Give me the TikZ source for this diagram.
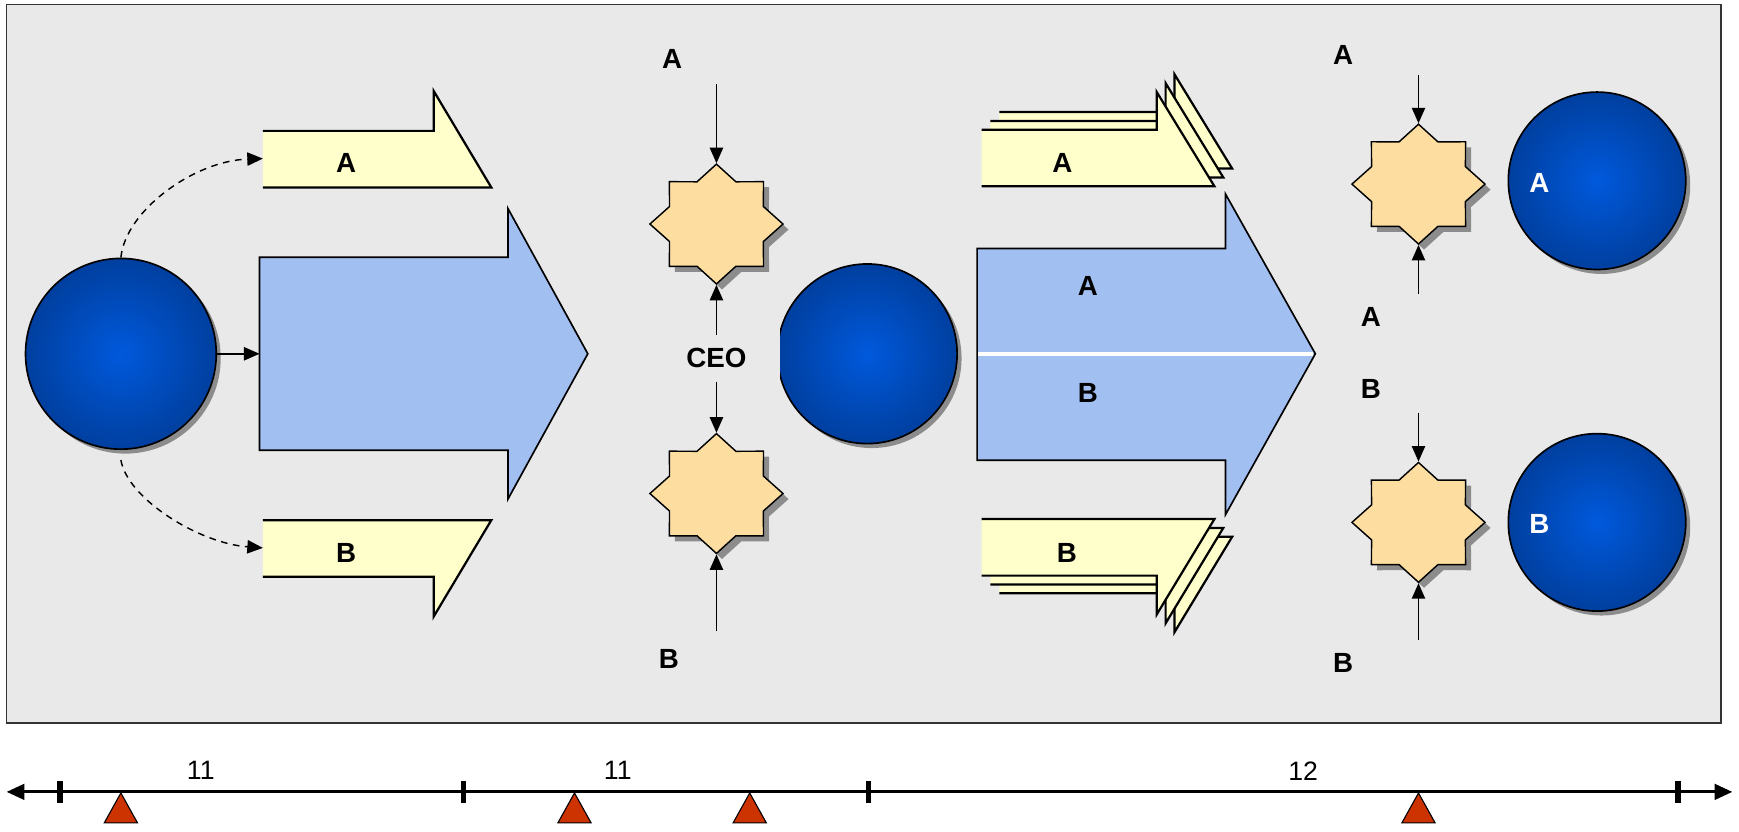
\documentclass[tikz,border=0pt]{standalone}
\usepackage{fontspec}
\setmainfont{Liberation Sans}
\usetikzlibrary{shapes.geometric,arrows.meta,shadows}
\definecolor{bgc}{HTML}{E9E9E9}
\definecolor{bluearr}{HTML}{A2BFF2}
\definecolor{yel}{HTML}{FFFFCC}
\definecolor{starc}{HTML}{FDDEA0}
\definecolor{ballin}{HTML}{0059DC}
\definecolor{ballout}{HTML}{003F9F}
\definecolor{tric}{HTML}{CC3300}
\definecolor{framec}{HTML}{333333}
\begin{document}
\begin{tikzpicture}[x=1pt,y=-1pt,
 lbl/.style={font=\fontsize{25}{30}\selectfont\bfseries, inner sep=0pt},
 wlbl/.style={lbl, text=white},
 num/.style={font=\fontsize{24}{28}\selectfont, inner sep=0pt},
 bluedisc/.style={circle, draw=black, line width=1.5pt, minimum size=#1, inner sep=0pt, shading=radial, inner color=ballin, outer color=ballout, drop shadow={shadow xshift=4pt, shadow yshift=-4pt, fill=black!45, opacity=1}},
 starbox/.style={star, star points=8, star point ratio=1.31, minimum size=120pt, inner sep=0pt, draw=black, line width=1.3pt, fill=starc, transform shape, drop shadow={shadow xshift=5pt, shadow yshift=-5pt, fill=black!45, opacity=1}},
 yarrow/.style={fill=yel, draw=black, line width=2pt},
 barrow/.style={fill=bluearr, draw=black, line width=1.5pt},
 conn/.style={draw=black, line width=1.3pt, -{Triangle[length=14pt,width=12pt]}},
 dconn/.style={conn, dash pattern=on 6pt off 5pt},
 tick/.style={line width=5pt},
 marker/.style={fill=tric, draw=black, line width=1pt},
]
\useasboundingbox (0,0) rectangle (1568,750);
% frame
\draw[fill=bgc, draw=framec, line width=1.5pt] (6,4) rectangle (1552,652);

% ---------- left panel ----------
\node[bluedisc=172pt] (c1) at (109,319) {};
\filldraw[barrow] (234,232) -- (458,232) -- (458,188) -- (530,319) -- (458,450) -- (458,406) -- (234,406) -- cycle;
\coordinate (bAin) at (234,319);
\filldraw[yarrow] (237,118) -- (391,118) -- (391,82) -- (443,169) -- (237,169);
\filldraw[yarrow] (237,469) -- (443,469) -- (391,556) -- (391,520) -- (237,520);
\coordinate (yAin) at (237,143);
\coordinate (yBin) at (237,494);
\node[lbl] (lA1) at (312,147) {A};
\node[lbl] (lB1) at (312,499) {B};
\draw[conn] (c1.east) -- (bAin);
\draw[dconn] (c1.north) .. controls (113,190) and (175,145) .. (yAin);
\draw[dconn] ([yshift=-9pt]c1.south) .. controls (115,450) and (180,490) .. (yBin);

% ---------- middle panel ----------
\begin{scope}[shift={(646,202)}, yscale=0.9]
 \node[starbox] (s1) at (0,0) {};
\end{scope}
\begin{scope}[shift={(646,445)}, yscale=0.9]
 \node[starbox] (s2) at (0,0) {};
\end{scope}
\node[lbl] (lA2) at (606,53) {A};
\node[lbl] (lB2) at (603,594) {B};
\node[lbl, inner ysep=12pt] (ceo) at (646,323) {CEO};
\coordinate (s1in) at (646,76);
\coordinate (s2in) at (646,569);
\draw[conn] (s1in) -- (s1.outer point 1);
\draw[conn] (ceo.north) -- (s1.outer point 5);
\draw[conn] (ceo.south) -- (s2.outer point 1);
\draw[conn] (s2in) -- (s2.outer point 5);
\begin{scope}
 \clip (703.5,200) rectangle (900,450);
 \node[bluedisc=162pt] (c2) at (782,319) {};
\end{scope}

% ---------- right panel ----------
\filldraw[barrow] (881,224) -- (1105,224) -- (1105,175) -- (1186,319) -- (1105,464) -- (1105,415) -- (881,415) -- cycle;
\draw[white, line width=3.5pt] (882,319) -- (1184,319);
\node[lbl] (lA3) at (981,258) {A};
\node[lbl] (lB3) at (981,354) {B};
\foreach \k in {2,1,0}{
 \filldraw[yarrow, shift={(8*\k,-8*\k)}] (885,117) -- (1043,117) -- (1043,83) -- (1095,168) -- (885,168);
 \filldraw[yarrow, shift={(8*\k,8*\k)}] (885,468) -- (1095,468) -- (1043,554) -- (1043,519) -- (885,519);
}
\node[lbl] (lA4) at (958,147) {A};
\node[lbl] (lB4) at (962,499) {B};

\begin{scope}[shift={(1279,166)}, yscale=0.9]
 \node[starbox] (s3) at (0,0) {};
\end{scope}
\begin{scope}[shift={(1279,471)}, yscale=0.9]
 \node[starbox] (s4) at (0,0) {};
\end{scope}
\coordinate (s3in) at (1279,68);
\coordinate (s3bot) at (1279,265);
\coordinate (s4in) at (1279,372);
\coordinate (s4bot) at (1279,577);
\draw[conn] (s3in) -- (s3.outer point 1);
\draw[conn] (s3bot) -- (s3.outer point 5);
\draw[conn] (s4in) -- (s4.outer point 1);
\draw[conn] (s4bot) -- (s4.outer point 5);
\node[lbl] (lA5) at (1211,50) {A};
\node[lbl] (lA6) at (1236,286) {A};
\node[lbl] (lB6) at (1236,351) {B};
\node[lbl] (lB5) at (1211,598) {B};
\node[bluedisc=160pt] (c3) at (1440,163) {};
\node[bluedisc=160pt] (c4) at (1440,471) {};
\node[wlbl] (wA) at (1388,165) {A};
\node[wlbl] (wB) at (1388,472) {B};

% ---------- timeline ----------
\coordinate (tlL) at (6,714);
\coordinate (tlR) at (1562,714);
\draw[line width=2.8pt, {Triangle[length=16pt,width=14pt]}-{Triangle[length=16pt,width=14pt]}] (tlL) -- (tlR);
\foreach \x in {54,418,783,1513}{
 \draw[tick] (\x,704) -- (\x,724);
}
\foreach \x in {109,518,676,1279}{
 \filldraw[marker] (\x,715) -- (\x+15,742) -- (\x-15,742) -- cycle;
}
\node[num] (n1) at (181,695) {11};
\node[num] (n2) at (557,695) {11};
\node[num] (n3) at (1175,695) {12};
\end{tikzpicture}
\end{document}
